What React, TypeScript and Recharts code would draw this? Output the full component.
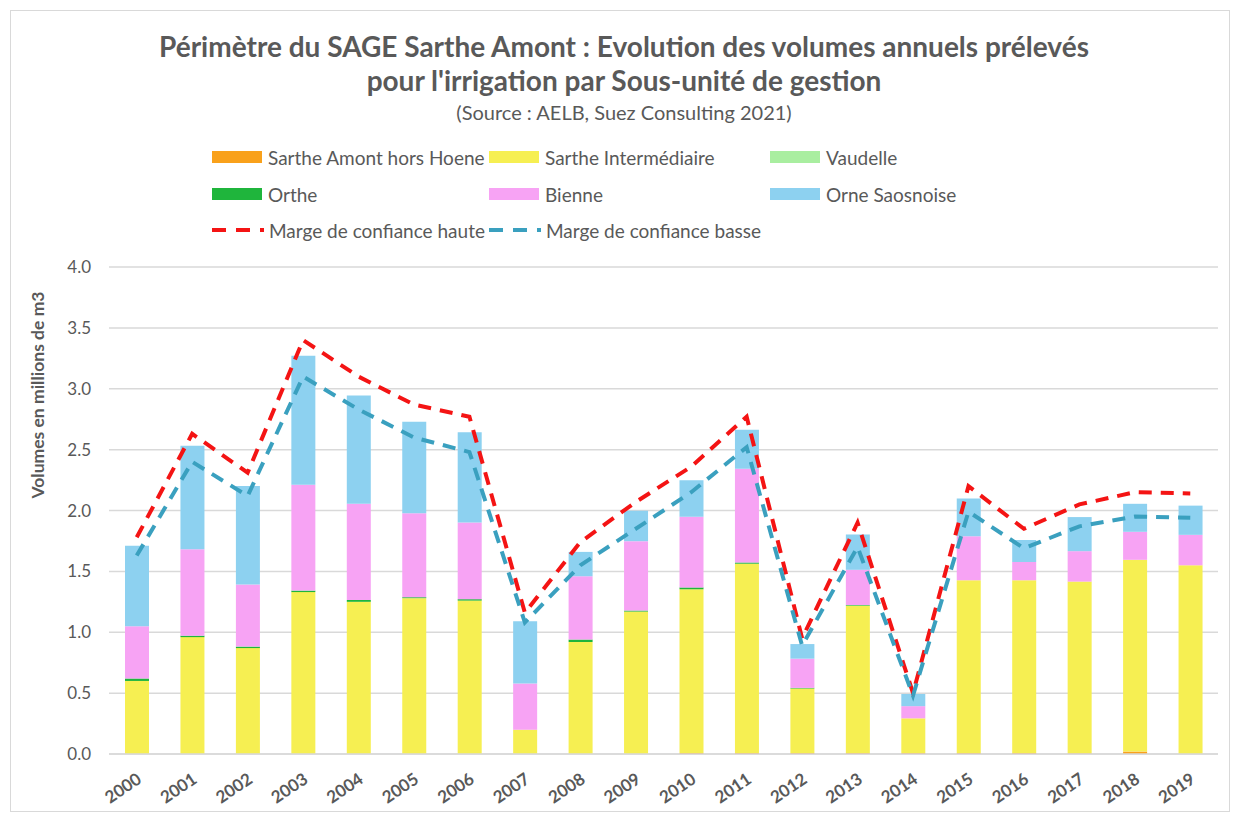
import React from "react";
import { Bar, CartesianGrid, ComposedChart, Line, XAxis, YAxis } from "recharts";

const years = ["2000", "2001", "2002", "2003", "2004", "2005", "2006", "2007", "2008", "2009", "2010", "2011", "2012", "2013", "2014", "2015", "2016", "2017", "2018", "2019"];

const sartheAmont = [0, 0, 0, 0, 0, 0, 0, 0, 0, 0, 0.008, 0.008, 0.008, 0.008, 0.008, 0.008, 0.008, 0.006, 0.02, 0];
const sartheInter = [0.6, 0.96, 0.87, 1.33, 1.25, 1.28, 1.26, 0.2, 0.92, 1.17, 1.345, 1.555, 0.53, 1.21, 0.285, 1.42, 1.42, 1.41, 1.575, 1.55];
const vaudelle = [0, 0, 0, 0, 0, 0, 0, 0, 0, 0, 0, 0, 0, 0, 0, 0, 0, 0, 0, 0];
const orthe = [0.02, 0.012, 0.012, 0.012, 0.015, 0.008, 0.012, 0, 0.02, 0.008, 0.015, 0.01, 0.005, 0.005, 0, 0, 0, 0, 0, 0];
const bienne = [0.43, 0.71, 0.51, 0.87, 0.79, 0.69, 0.63, 0.38, 0.52, 0.57, 0.58, 0.77, 0.24, 0.29, 0.1, 0.36, 0.15, 0.25, 0.23, 0.25];
const orne = [0.66, 0.85, 0.81, 1.06, 0.89, 0.75, 0.74, 0.51, 0.2, 0.25, 0.3, 0.32, 0.12, 0.29, 0.1, 0.31, 0.18, 0.28, 0.23, 0.24];
const margeHaute = [1.78, 2.63, 2.31, 3.4, 3.1, 2.87, 2.77, 1.16, 1.74, 2.07, 2.36, 2.77, 0.95, 1.9, 0.5, 2.2, 1.85, 2.05, 2.15, 2.14];
const margeBasse = [1.63, 2.4, 2.12, 3.1, 2.83, 2.6, 2.48, 1.08, 1.55, 1.85, 2.15, 2.52, 0.89, 1.7, 0.48, 1.99, 1.69, 1.87, 1.95, 1.94];

const yTicks = [0, 0.5, 1, 1.5, 2, 2.5, 3, 3.5, 4];

const BARS = [
  { key: "sartheAmont", name: "Sarthe Amont hors Hoene", color: "#f9a11b" },
  { key: "sartheInter", name: "Sarthe Intermédiaire", color: "#f6ef52" },
  { key: "vaudelle", name: "Vaudelle", color: "#a9eea0" },
  { key: "orthe", name: "Orthe", color: "#1fb53c" },
  { key: "bienne", name: "Bienne", color: "#f7a3f4" },
  { key: "orne", name: "Orne Saosnoise", color: "#8dd1f0" }
];

const LINES = [
  { key: "haute", name: "Marge de confiance haute", color: "#f41414" },
  { key: "basse", name: "Marge de confiance basse", color: "#3aa0bf" }
];

const data = years.map((year, i) => ({
  year,
  sartheAmont: sartheAmont[i],
  sartheInter: sartheInter[i],
  vaudelle: vaudelle[i],
  orthe: orthe[i],
  bienne: bienne[i],
  orne: orne[i],
  haute: margeHaute[i],
  basse: margeBasse[i]
}));

const FONT = "Lato, 'Open Sans', sans-serif";
const GREY = "#595959";

const legendRows = [
  [BARS[0], BARS[1], BARS[2]],
  [BARS[3], BARS[4], BARS[5]],
  [LINES[0], LINES[1]]
];
const legendCols = [212, 489, 770];
const legendRowsY = [157, 194, 230];

function YearTick({ x, y, payload }: any) {
  return (
    <text
      x={x + 6}
      y={y + 20}
      fill={GREY}
      fontSize={17}
      fontWeight={700}
      fontFamily={FONT}
      textAnchor="end"
      transform={`rotate(-34 ${x + 6} ${y + 20})`}
    >
      {payload.value}
    </text>
  );
}

export default function App() {
  return (
    <div style={{ position: "absolute", left: 0, top: 0, width: 1236, height: 816, background: "#fff", fontFamily: FONT }}>
      <div style={{ position: "absolute", left: 10, top: 10, width: 1218, height: 800, border: "1px solid #d9d9d9" }} />
      <div style={{ position: "absolute", left: 0, width: 1248, top: 29, textAlign: "center", color: GREY, fontWeight: 700, fontSize: 28, lineHeight: "34px" }}>
        Périmètre du SAGE Sarthe Amont : Evolution des volumes annuels prélevés
        <br />
        pour l'irrigation par Sous-unité de gestion
      </div>
      <div style={{ position: "absolute", left: 0, width: 1248, top: 100, textAlign: "center", color: GREY, fontSize: 20 }}>
        (Source : AELB, Suez Consulting 2021)
      </div>
      {legendRows.map((row, r) =>
        row.map((item, c) => {
          const isLine = r === 2;
          return (
            <div key={item.key} style={{ position: "absolute", left: legendCols[c], top: legendRowsY[r] - 12, height: 24, display: "flex", alignItems: "center", color: GREY, fontSize: 19, whiteSpace: "nowrap" }}>
              {isLine ? (
                <svg width={52} height={8} style={{ marginRight: 5 }}>
                  <line x1={0} y1={4} x2={52} y2={4} stroke={item.color} strokeWidth={4} strokeDasharray="14 10" />
                </svg>
              ) : (
                <span style={{ display: "inline-block", width: 50, height: 12, background: item.color, marginRight: 6 }} />
              )}
              {item.name}
            </div>
          );
        })
      )}
      <div
        style={{
          position: "absolute",
          left: 37,
          top: 395,
          transform: "translate(-50%, -50%) rotate(-90deg)",
          whiteSpace: "nowrap",
          color: GREY,
          fontWeight: 700,
          fontSize: 17.5
        }}
      >
        Volumes en millions de m3
      </div>
      <div style={{ position: "absolute", left: 0, top: 0 }}>
        <ComposedChart width={1236} height={816} data={data} margin={{ top: 267, right: 18, bottom: 32, left: 0 }} barSize={24}>
          <CartesianGrid vertical={false} stroke="#d9d9d9" strokeWidth={1.5} />
          <XAxis dataKey="year" tick={<YearTick />} tickLine={false} axisLine={{ stroke: "#d9d9d9", strokeWidth: 1.5 }} interval={0} height={30} />
          <YAxis
            width={109}
            domain={[0, 4]}
            ticks={yTicks}
            tickFormatter={(v: number) => v.toFixed(1)}
            tick={{ fill: GREY, fontSize: 17, fontFamily: FONT }}
            tickLine={false}
            axisLine={false}
            tickMargin={12}
          />
          {BARS.map((b) => (
            <Bar key={b.key} dataKey={b.key} name={b.name} stackId="v" fill={b.color} isAnimationActive={false} />
          ))}
          {LINES.map((l) => (
            <Line
              key={l.key}
              dataKey={l.key}
              name={l.name}
              type="linear"
              stroke={l.color}
              strokeWidth={4}
              strokeDasharray="13 9"
              dot={false}
              activeDot={false}
              isAnimationActive={false}
            />
          ))}
        </ComposedChart>
      </div>
    </div>
  );
}
